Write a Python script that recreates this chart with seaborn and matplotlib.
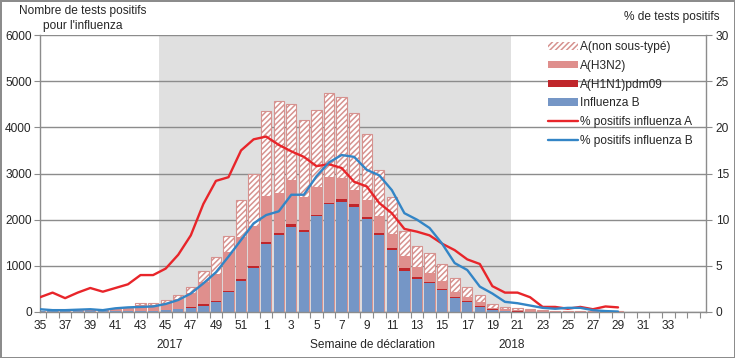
import numpy as np
import pandas as pd
import seaborn as sns
import matplotlib
import matplotlib.pyplot as plt
import matplotlib.transforms as mtransforms
from matplotlib.patches import Patch
from matplotlib.lines import Line2D

weeks = list(range(35, 53)) + list(range(1, 36))

flu_b = [15, 15, 15, 20, 25, 20, 25, 30, 20, 25, 40, 65, 95, 140, 220, 440, 680, 960,
         1480, 1660, 1840, 1730, 2070, 2340, 2380, 2280, 2020, 1660, 1340, 890, 720, 630,
         470, 300, 220, 115, 50, 18, 10, 5, 5, 5, 3, 3, 2, 2, 2]
h1n1 = [0, 0, 0, 0, 0, 0, 0, 0, 2, 2, 5, 5, 10, 26, 25, 20, 40, 40,
        40, 50, 70, 50, 40, 30, 60, 60, 40, 50, 40, 60, 30, 30,
        30, 20, 20, 15, 10, 4, 3, 2, 2, 1, 1, 1, 1, 1, 0]
h3n2 = [10, 10, 10, 15, 15, 20, 30, 40, 120, 130, 150, 220, 300, 490, 570, 845, 900, 870,
        990, 860, 950, 720, 600, 550, 460, 300, 370, 360, 310, 260, 230, 180,
        170, 120, 80, 95, 35, 35, 27, 28, 20, 14, 15, 10, 10, 9, 12]
non_st = [5, 5, 5, 5, 10, 10, 15, 20, 45, 45, 70, 85, 130, 230, 370, 340, 810, 1110,
          1835, 1990, 1645, 1660, 1660, 1820, 1750, 1660, 1420, 1005, 810, 550, 450, 430,
          370, 290, 215, 145, 80, 58, 53, 30, 20, 12, 10, 8, 7, 6, 8]

pct_a = [1.6, 2.1, 1.5, 2.1, 2.6, 2.2, 2.6, 3.0, 4.0, 4.0, 4.7, 6.2, 8.3, 11.7, 14.2, 14.6, 17.5, 18.7,
         19.0, 18.1, 17.4, 16.8, 15.8, 16.0, 15.6, 14.1, 13.6, 11.8, 10.7, 9.0, 8.7, 8.3,
         7.4, 6.7, 5.7, 5.2, 2.8, 2.1, 2.1, 1.6, 0.55, 0.55, 0.35, 0.55, 0.3, 0.6, 0.5]
pct_b = [0.3, 0.2, 0.2, 0.25, 0.3, 0.2, 0.4, 0.5, 0.55, 0.6, 0.87, 1.3, 2.0, 3.1, 4.3, 6.0, 7.8, 9.6,
         10.5, 10.9, 12.7, 12.7, 14.7, 16.2, 17.0, 16.8, 15.4, 14.8, 13.2, 10.7, 10.0, 9.1,
         7.4, 5.3, 4.55, 2.75, 2.0, 1.1, 0.95, 0.7, 0.45, 0.35, 0.45, 0.45, 0.2, 0.1, 0.05]

season_start, season_end = 45, 20  # shaded surveillance season (weeks)

c_b = "#7596c6"
c_h1 = "#c0262b"
c_h3 = "#df8f8d"
c_hatch = "#d6928f"
c_line_a = "#e8252a"
c_line_b = "#3385c6"
c_grey = "#8c8c8c"

sns.set_theme(style="white")
plt.rcParams["font.family"] = ["Liberation Sans", "DejaVu Sans"]
plt.rcParams["hatch.linewidth"] = 1.1
FS = 8.6

n = len(weeks)
n_obs = len(flu_b)
df = pd.DataFrame({"idx": np.arange(n_obs), "b": flu_b, "h1": h1n1, "h3": h3n2, "nst": non_st,
                   "pa": pct_a, "pb": pct_b})
df["lvl_b"] = df["b"]
df["lvl_h1"] = df["b"] + df["h1"]
df["lvl_h3"] = df["lvl_h1"] + df["h3"]
df["lvl_all"] = df["lvl_h3"] + df["nst"]

fig = plt.figure(figsize=(7.35, 3.58), dpi=100)
fig.patch.set_edgecolor("#8c8c8c")
fig.patch.set_linewidth(1.0)
ax = fig.add_axes([40 / 735, 1 - 312 / 358, 666 / 735, 277 / 358])

# shaded season
i0 = weeks.index(season_start)
i1 = weeks.index(season_end, 18)
ax.axvspan(i0 - 0.5, i1 + 0.5, color="#e0e0e0", lw=0, zorder=0.2)

order = list(range(n))
common = dict(x="idx", order=order, ax=ax, width=0.82, saturation=1, errorbar=None)
sns.barplot(data=df, y="lvl_all", color="white", edgecolor=c_hatch, hatch="//////",
            linewidth=0.8, **common)
sns.barplot(data=df, y="lvl_h3", color=c_h3, linewidth=0, **common)
sns.barplot(data=df, y="lvl_h1", color=c_h1, linewidth=0, **common)
sns.barplot(data=df, y="lvl_b", color=c_b, linewidth=0, **common)

ax2 = ax.twinx()
sns.lineplot(data=df, x="idx", y="pa", ax=ax2, color=c_line_a, lw=1.7)
sns.lineplot(data=df, x="idx", y="pb", ax=ax2, color=c_line_b, lw=1.7)

# axes styling
ax.set_ylim(0, 6000)
ax.set_yticks(range(0, 6001, 1000))
ax2.set_ylim(0, 30)
ax2.set_yticks(range(0, 31, 5))
ax.set_xlim(0, n)
ax2.set_xlim(0, n)
ax.set_axisbelow(True)
ax.yaxis.grid(True, color=c_grey, lw=1.0)
ax.xaxis.grid(False)
ax.set_xticks(range(0, n - 2, 2))
ax.set_xticklabels([str(w) for w in weeks[0:n - 2:2]])
ax.set_xticks(np.arange(0.5, n, 1.0), minor=True)
ax.tick_params(axis="x", which="major", length=0, labelsize=FS, pad=6)
ax.tick_params(axis="x", which="minor", length=4, color=c_grey, width=0.8, bottom=True)
ax.tick_params(axis="y", length=4, color=c_grey, width=0.8, labelsize=FS, left=True, pad=2)
ax2.tick_params(axis="y", length=4, color=c_grey, width=0.8, labelsize=FS, right=True, pad=3)
ax.set_ylabel("")
ax2.set_ylabel("")
ax.set_xlabel("Semaine de déclaration", fontsize=FS, labelpad=5)
ax2.set_xlabel("")

for a in (ax, ax2):
    for s in a.spines.values():
        s.set_color(c_grey)
        s.set_linewidth(1.0)
ax.spines["top"].set_visible(False)
ax.spines["right"].set_visible(False)
ax2.spines["top"].set_visible(False)
ax2.spines["left"].set_visible(False)
ax2.spines["bottom"].set_visible(False)

trans = mtransforms.blended_transform_factory(ax.transData, ax.transAxes)
ax.text(10.3, -0.118, "2017", transform=trans, ha="center", va="center", fontsize=FS)
ax.text(37.5, -0.118, "2018", transform=trans, ha="center", va="center", fontsize=FS)

fig.text(83 / 735, 1 - 5 / 358, "Nombre de tests positifs\npour l'influenza", ha="center", va="top",
         fontsize=FS, linespacing=1.3)
fig.text(672 / 735, 1 - 17 / 358, "% de tests positifs", ha="center", va="center", fontsize=FS)

handles = [
    Patch(facecolor="white", edgecolor=c_hatch, hatch="//////", lw=0),
    Patch(facecolor=c_h3, lw=0),
    Patch(facecolor=c_h1, lw=0),
    Patch(facecolor=c_b, lw=0),
    Line2D([], [], color=c_line_a, lw=1.7),
    Line2D([], [], color=c_line_b, lw=1.7),
]
labels = ["A(non sous-typé)", "A(H3N2)", "A(H1N1)pdm09", "Influenza B",
          "% positifs influenza A", "% positifs influenza B"]
fig.legend(handles, labels, loc="upper left", bbox_to_anchor=(548 / 735, 1 - 41 / 358),
           frameon=False, fontsize=FS, handlelength=2.5, handleheight=0.6,
           handletextpad=0.2, labelspacing=0.57, borderaxespad=0, borderpad=0)

fig.savefig("out.png", dpi=100)
